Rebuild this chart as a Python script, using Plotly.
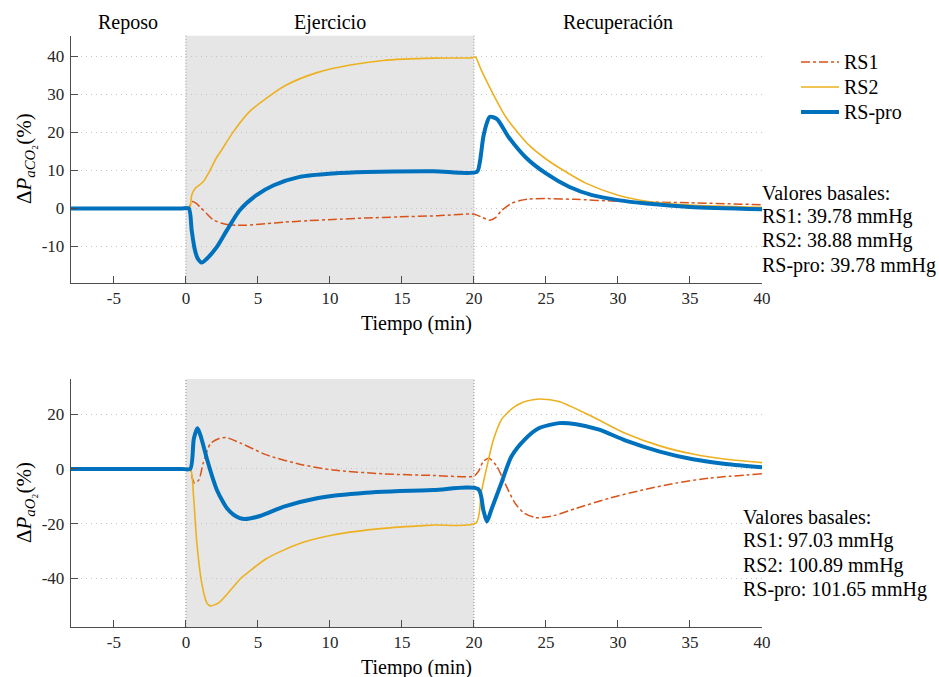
import plotly.graph_objects as go

# ---------------- data ----------------
# Top panel: Delta PaCO2 (%)
t_co2_rs1 = [-8, -6, -4, -2, -1, -0.3, 0.2, 0.4, 0.7, 1.0, 1.4, 1.9, 2.5, 3.0, 3.5, 4.2, 5.5, 6.8, 8.5, 10.2, 12.5,
             14.8, 17.5, 20.0, 20.5, 21.1, 21.5, 21.9, 22.6, 23.2, 23.8, 25.0, 27.0, 30.0, 35.0, 40.0]
v_co2_rs1 = [0, 0, 0, 0, 0, 0, 0, 1.8, 1.4, 0.3, -1.2, -3.0, -3.9, -4.3, -4.4, -4.4, -4.0, -3.6, -3.2, -2.9, -2.5,
             -2.2, -1.9, -1.5, -2.2, -3.1, -2.4, -0.6, 1.3, 2.1, 2.5, 2.6, 2.4, 1.9, 1.5, 1.0]

t_co2_rs2 = [-8, -6, -4, -2, -1, -0.3, 0.25, 0.4, 0.65, 1.2, 1.6, 2.1, 2.5, 3.3, 4.4, 5.6, 7.0, 9.1, 11.4, 13.7,
             17.2, 19.9, 20.1, 20.5, 21.3, 22.2, 23.1, 23.8, 25.0, 26.0, 27.8, 30.0, 32.0, 35.0, 40.0]
v_co2_rs2 = [0, 0, 0, 0, 0, 0, 0, 3.5, 5.3, 7.0, 9.5, 13.2, 15.5, 20.2, 25.4, 29.0, 32.5, 35.7, 37.7, 38.9,
             39.5, 39.6, 39.8, 36.4, 30.3, 24.1, 19.7, 16.7, 13.0, 10.5, 6.6, 3.5, 1.9, 0.9, 0.3]

t_co2_rsp = [-8, -6, -4, -2, -1, -0.3, 0.2, 0.4, 0.6, 0.8, 1.1, 1.45, 2.15, 2.85, 3.75, 4.9, 6.1, 7.9, 10.2, 12.5,
             17.2, 20.2, 20.4, 20.65, 20.9, 21.1, 21.6, 22.4, 23.6, 25.0, 26.6, 28.2, 30.0, 32.0, 35.0, 40.0]
v_co2_rsp = [0, 0, 0, 0, 0, 0, 0, -5.7, -10.5, -13.0, -14.2, -13.2, -10.1, -5.7, -0.4, 3.5, 6.1, 8.3, 9.2, 9.6,
             9.8, 9.6, 12.0, 18.8, 22.5, 24.1, 23.5, 18.8, 13.4, 9.2, 5.7, 3.5, 2.2, 1.3, 0.4, -0.2]

# Bottom panel: Delta PaO2 (%)
t_o2_rs1 = [-8, -6, -4, -2, -1, -0.3, 0.3, 0.45, 0.6, 0.9, 1.2, 1.7, 2.3, 2.8, 3.8, 5.6, 7.9, 10.2, 13.7, 17.2,
            20.0, 20.3, 20.65, 21.05, 21.6, 22.15, 22.85, 23.5, 24.3, 25.5, 27.1, 29.4, 31.7, 34.0, 36.3, 40.0]
v_o2_rs1 = [0, 0, 0, 0, 0, 0, 0, -3.5, -5.2, -4.0, 2.1, 9.2, 11.1, 11.4, 9.4, 5.1, 1.7, -0.4, -1.8, -2.4,
            -2.6, -1.0, 2.7, 3.9, 0.8, -5.2, -12.5, -16.2, -17.8, -17.1, -14.4, -10.7, -7.7, -5.2, -3.4, -1.8]

t_o2_rs2 = [-8, -6, -4, -2, -1, -0.3, 0.3, 0.53, 0.76, 1.1, 1.46, 1.7, 2.3, 3.3, 3.8, 4.5, 5.6, 7.9, 10.2, 13.7,
            17.2, 20.15, 20.5, 20.9, 21.35, 21.9, 22.3, 22.8, 23.4, 24.1, 24.6, 25.9, 28.2, 30.5, 32.9, 35.2,
            37.5, 40.0]
v_o2_rs2 = [0, 0, 0, 0, 0, 0, 0, -10.1, -27.1, -41.7, -49.0, -50.0, -48.8, -43.0, -40.0, -37.0, -32.7, -27.2,
            -24.1, -21.7, -20.5, -19.7, -8.9, 0.8, 10.6, 17.9, 20.3, 22.6, 24.3, 25.2, 25.5, 24.6, 19.1, 13.0,
            8.4, 5.4, 3.5, 2.3]

t_o2_rsp = [-8, -6, -4, -2, -1, -0.3, 0.3, 0.55, 0.8, 1.0, 1.45, 1.9, 2.15, 2.6, 2.85, 3.3, 3.7, 4.1, 5.15, 6.8,
            9.1, 12.5, 17.2, 20.3, 20.65, 20.9, 21.2, 21.9, 22.6, 23.5, 24.5, 25.9, 27.1, 28.7, 30.5, 32.9, 35.2,
            37.5, 40.0]
v_o2_rsp = [0, 0, 0, 0, 0, 0, 0, 11.0, 14.8, 12.4, 3.8, -4.0, -7.7, -12.3, -14.4, -16.7, -17.9, -18.3, -17.2,
            -13.8, -10.7, -8.7, -7.7, -7.4, -15.0, -19.2, -15.0, -5.2, 4.5, 10.6, 14.8, 16.7, 16.3, 14.3, 10.4,
            6.3, 3.5, 1.8, 0.6]

series_names = ["RS1", "RS2", "RS-pro"]
phase_labels = ["Reposo", "Ejercicio", "Recuperación"]
phase_centers = [-4, 10, 30]
x_tickvals = [-5, 0, 5, 10, 15, 20, 25, 30, 35, 40]
x_ticktext = ["-5", "0", "5", "10", "15", "20", "25", "30", "35", "40"]
y1_tickvals = [-10, 0, 10, 20, 30, 40]
y1_ticktext = ["-10", "0", "10", "20", "30", "40"]
y2_tickvals = [-40, -20, 0, 20]
y2_ticktext = ["-40", "-20", "0", "20"]
basal_co2 = ["Valores basales:", "RS1: 39.78 mmHg", "RS2: 38.88 mmHg", "RS-pro: 39.78 mmHg"]
basal_o2 = ["Valores basales:", "RS1: 97.03 mmHg", "RS2: 100.89 mmHg", "RS-pro: 101.65 mmHg"]

# ---------------- styles ----------------
C_RS1 = "#D95319"
C_RS2 = "#EDB120"
C_RSP = "#0072BD"
FONT = "Liberation Serif, Times New Roman, serif"
W, H = 939, 677
styles = {
    "RS1": dict(color=C_RS1, width=1.5, dash="dashdot"),
    "RS2": dict(color=C_RS2, width=1.6, dash="solid"),
    "RS-pro": dict(color=C_RSP, width=4, dash="solid"),
}

fig = go.Figure()

def add_series(t, v, name, xa, ya):
    st = styles[name]
    fig.add_trace(go.Scatter(x=t, y=v, mode="lines", name=name,
                             line=dict(color=st["color"], width=st["width"], dash=st["dash"],
                                       shape="spline", smoothing=0.7),
                             xaxis=xa, yaxis=ya, showlegend=False, hoverinfo="skip"))

add_series(t_co2_rs1, v_co2_rs1, series_names[0], "x", "y")
add_series(t_co2_rs2, v_co2_rs2, series_names[1], "x", "y")
add_series(t_co2_rsp, v_co2_rsp, series_names[2], "x", "y")
add_series(t_o2_rs1, v_o2_rs1, series_names[0], "x2", "y2")
add_series(t_o2_rs2, v_o2_rs2, series_names[1], "x2", "y2")
add_series(t_o2_rsp, v_o2_rsp, series_names[2], "x2", "y2")

xdom = [70.7 / W, 762 / W]
ydom1 = [1 - 282.7 / H, 1 - 35.7 / H]
ydom2 = [1 - 627 / H, 1 - 379 / H]
AX = "#4d4d4d"
tickfont = dict(family=FONT, size=17, color="#262626")

xcommon = dict(range=[-8, 40], domain=xdom, showline=True, linecolor=AX, linewidth=1,
               ticks="inside", ticklen=7, tickcolor=AX, tickvals=x_tickvals, ticktext=x_ticktext,
               tickfont=tickfont, showgrid=False, zeroline=False, ticklabelstandoff=0, automargin=False)
ycommon = dict(showline=True, linecolor=AX, linewidth=1, ticks="inside", ticklen=7, tickcolor=AX,
               tickfont=tickfont, showgrid=True, gridcolor="#c4c4c4", griddash="1px,4px", gridwidth=1,
               zeroline=False, ticklabelstandoff=2, automargin=False)

fig.update_layout(
    width=W, height=H, margin=dict(l=0, r=0, t=0, b=0),
    paper_bgcolor="white", plot_bgcolor="white",
    font=dict(family=FONT, color="black"),
    showlegend=False,
    xaxis=dict(**xcommon, anchor="y"),
    yaxis=dict(**ycommon, range=[-19.5, 45.4], domain=ydom1, anchor="x",
               tickvals=y1_tickvals, ticktext=y1_ticktext),
    xaxis2=dict(**xcommon, anchor="y2"),
    yaxis2=dict(**ycommon, range=[-57.7, 32.8], domain=ydom2, anchor="x2",
                tickvals=y2_tickvals, ticktext=y2_ticktext),
)

# shading + phase boundaries
for xa, ya in [("x", "y"), ("x2", "y2")]:
    fig.add_shape(type="rect", xref=xa, yref=ya + " domain", x0=0, x1=20, y0=0, y1=1,
                  fillcolor="#e6e6e6", line=dict(width=0), layer="below")
    for xv in [0, 20]:
        fig.add_shape(type="line", xref=xa, yref=ya + " domain", x0=xv, x1=xv, y0=0, y1=1,
                      line=dict(color="#8c8c8c", width=1, dash="1px,2px"), layer="below")

ann = []
# manual legend
for name, yy in zip(series_names, [62, 87, 112]):
    st = styles[name]
    fig.add_shape(type="line", xref="paper", yref="paper", x0=801 / W, x1=839 / W,
                  y0=1 - yy / H, y1=1 - yy / H,
                  line=dict(color=st["color"], width=st["width"], dash=st["dash"]))
    ann.append(dict(x=842 / W, xref="paper", y=1 - yy / H, yref="paper", text=name, showarrow=False,
                    font=dict(family=FONT, size=20, color="black"), xanchor="left", yanchor="middle"))

for lab, c in zip(phase_labels, phase_centers):
    ann.append(dict(x=c, xref="x", y=1 - 22 / H, yref="paper", text=lab, showarrow=False,
                    font=dict(family=FONT, size=20, color="black"), xanchor="center", yanchor="middle"))
for yy in [323, 667]:
    ann.append(dict(x=416 / W, xref="paper", y=1 - yy / H, yref="paper", text="Tiempo (min)",
                    showarrow=False, font=dict(family=FONT, size=20, color="black"),
                    xanchor="center", yanchor="middle"))
ann.append(dict(x=25 / W, xref="paper", y=1 - 159 / H, yref="paper",
                text="Δ<i>P</i><sub><i>aCO</i>₂</sub>(%)", textangle=-90, showarrow=False,
                font=dict(family=FONT, size=21, color="black"), xanchor="center", yanchor="middle"))
ann.append(dict(x=25 / W, xref="paper", y=1 - 503 / H, yref="paper",
                text="Δ<i>P</i><sub><i>aO</i>₂</sub>(%)", textangle=-90, showarrow=False,
                font=dict(family=FONT, size=21, color="black"), xanchor="center", yanchor="middle"))
for lines, x0, ys in [(basal_co2, 760, [192.7, 216.7, 240.7, 265]),
                      (basal_o2, 741, [516.7, 540.7, 565, 589.3])]:
    for txt, yy in zip(lines, ys):
        ann.append(dict(x=x0 / W, xref="paper", y=1 - yy / H, yref="paper", text=txt, showarrow=False,
                        font=dict(family=FONT, size=20, color="black"), xanchor="left", yanchor="middle"))
fig.update_layout(annotations=ann)

fig.write_html("out.html")
